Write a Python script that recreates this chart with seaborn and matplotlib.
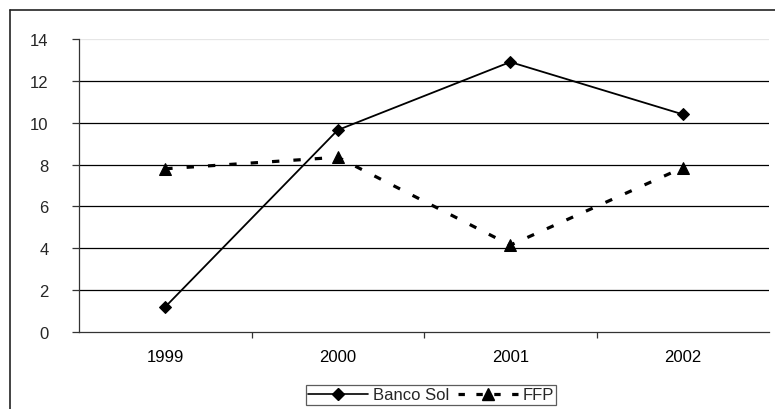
import matplotlib
matplotlib.use("Agg")
import matplotlib.pyplot as plt
from matplotlib.lines import Line2D
from matplotlib.ticker import FixedLocator
import seaborn as sns
import pandas as pd

years = ["1999", "2000", "2001", "2002"]
banco_sol = [1.2, 9.65, 12.9, 10.4]
ffp = [7.8, 8.35, 4.15, 7.85]
series_names = ["Banco Sol", "FFP"]
y_ticks = [0, 2, 4, 6, 8, 10, 12, 14]

sns.set_theme(style="white")
plt.rcParams['font.family'] = ['Liberation Sans', 'DejaVu Sans']
FS = 12
DASH = (2.3, 4.4)

df = pd.DataFrame({
    "x": list(range(len(years))) * 2,
    "value": banco_sol + ffp,
    "serie": [series_names[0]] * len(years) + [series_names[1]] * len(years),
})

fig = plt.figure(figsize=(7.75, 4.10), dpi=100)
ax = fig.add_axes([79 / 775, 1 - 333 / 410, (769 - 79) / 775, (333 - 40) / 410])

# gridlines
for v in y_ticks[1:-1]:
    ax.axhline(v, color="black", lw=0.9, zorder=0)
ax.axhline(14, color="#e6e6e6", lw=0.9, zorder=0)

sns.lineplot(data=df, x="x", y="value", hue="serie", style="serie",
             palette=["black", "black"],
             dashes={series_names[0]: "", series_names[1]: DASH},
             markers={series_names[0]: "D", series_names[1]: "^"},
             ax=ax, legend=False, zorder=3)
lines = ax.get_lines()[-2:]
lines[0].set_linewidth(1.3)
lines[0].set_markersize(6.5)
lines[1].set_linewidth(2.3)
lines[1].set_markersize(8)
for ln in lines:
    ln.set_markeredgecolor("black")
    ln.set_markerfacecolor("black")

ax.set_xlim(-0.5, 3.5)
ax.set_ylim(0, 14)
ax.set_xticks(range(len(years)))
ax.set_xticklabels(years)
ax.xaxis.set_minor_locator(FixedLocator([0.5, 1.5, 2.5]))
ax.set_yticks(y_ticks)
ax.set_xlabel("")
ax.set_ylabel("")
for s in ["top", "right"]:
    ax.spines[s].set_visible(False)
for s in ["left", "bottom"]:
    ax.spines[s].set_color("#333333")
    ax.spines[s].set_linewidth(0.9)
ax.tick_params(axis="x", which="major", length=0, labelsize=FS, pad=12, colors="black")
ax.tick_params(axis="x", which="minor", bottom=True, length=4, width=0.9, color="#333333")
ax.tick_params(axis="y", left=True, length=5, width=0.9, color="#333333", labelsize=FS, pad=17)
for lab in ax.get_yticklabels():
    lab.set_horizontalalignment("right")

handles = [
    Line2D([], [], color="black", lw=1.2, marker="D", markersize=6),
    Line2D([], [], color="black", lw=2.3, dashes=(2.0, 3.6), marker="^", markersize=8),
]
leg = fig.legend(handles, series_names, loc="center", ncol=2,
                 bbox_to_anchor=(431 / 775, 1 - 396 / 410), frameon=True,
                 fontsize=FS, handlelength=3.6, handletextpad=0.3, columnspacing=0.5,
                 borderpad=0.15, borderaxespad=0, fancybox=False, edgecolor="#333333")
leg.get_frame().set_linewidth(0.9)

# outer chart border (top and left visible)
fig.add_artist(Line2D([10 / 775, 1.0], [1 - 11 / 410, 1 - 11 / 410], color="#222222", lw=1.2,
                      transform=fig.transFigure))
fig.add_artist(Line2D([10 / 775, 10 / 775], [0.0, 1 - 11 / 410], color="#222222", lw=1.2,
                      transform=fig.transFigure))

# caption cut off at the very top, as in the source
fig.text(757 / 775, 1 + 5 / 410, "(En % del total)", ha="right", va="baseline",
         fontsize=FS, color="black")

fig.savefig("out.png", dpi=100)
